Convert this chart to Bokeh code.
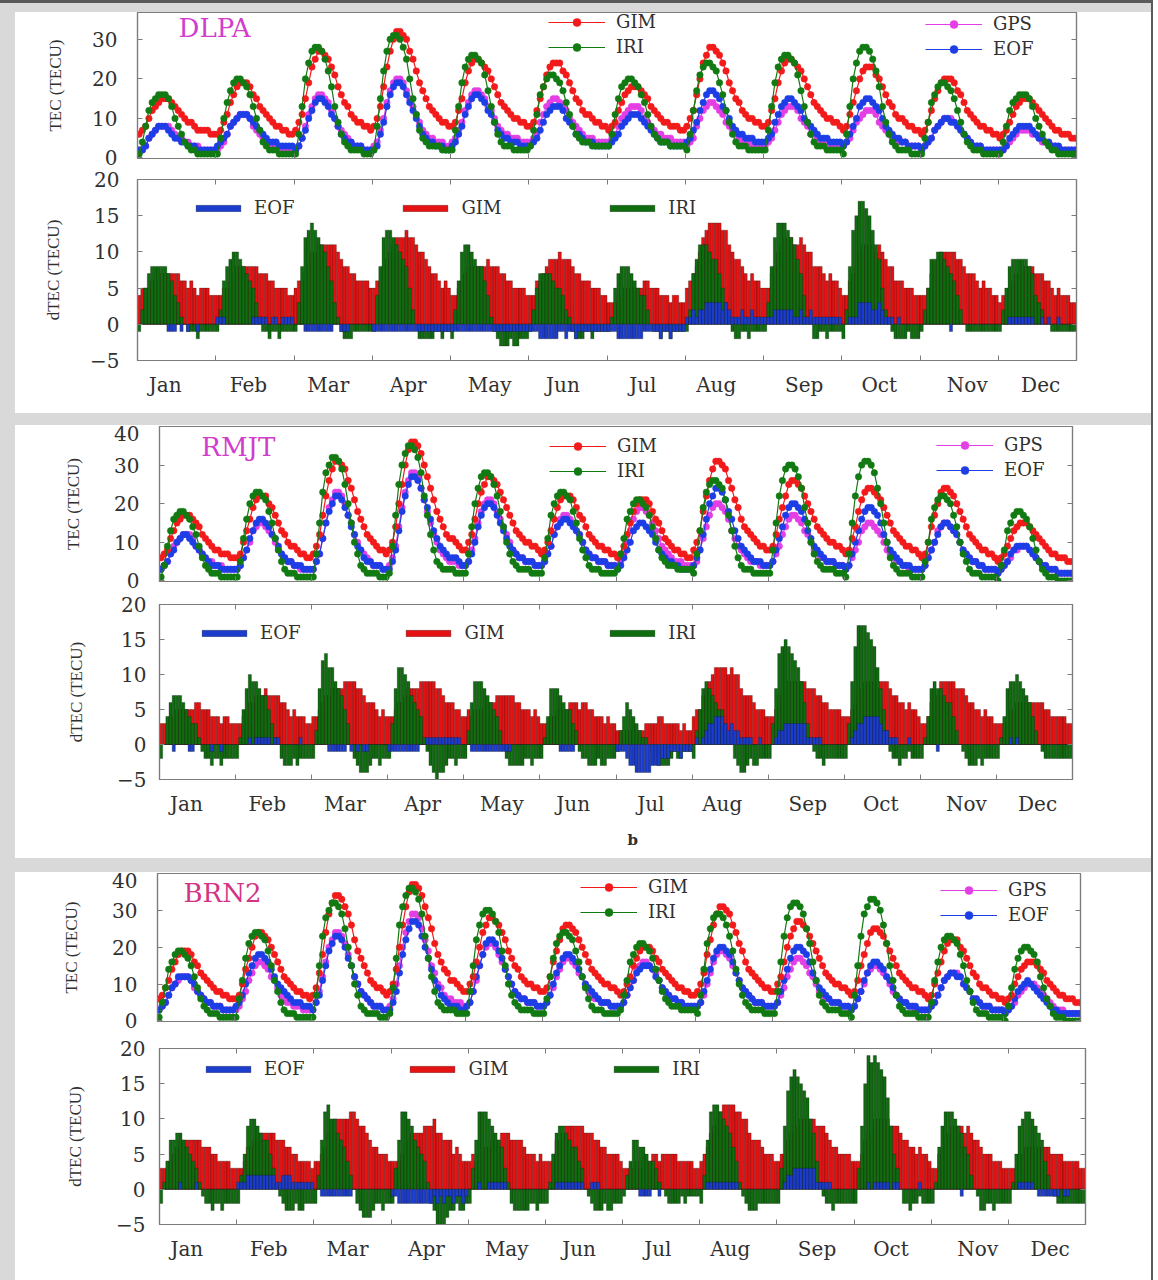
import numpy as np
from bokeh.plotting import figure
from bokeh.models import (Range1d, LinearAxis, FixedTicker, Legend, LegendItem,
                          Label, Title, ColumnDataSource)
from bokeh.layouts import column
from bokeh.embed import file_html
from bokeh.resources import INLINE

# ---------------------------------------------------------------------------
# Monthly-mean diurnal TEC (hourly, UT) for 2015 at three Nepal GPS stations.
# Each series: 12 months x 24 hourly values (TECU).
# ---------------------------------------------------------------------------
MONTHS = ["Jan", "Feb", "Mar", "Apr", "May", "Jun",
          "Jul", "Aug", "Sep", "Oct", "Nov", "Dec"]
MONTH_LABEL_HOURS = [8.5, 34.0, 58.5, 83.0, 108.0, 130.5,
                     155.0, 177.5, 204.5, 227.5, 254.5, 277.0]

DLPA_GPS = [
    [2,2,3,5,6,7,8,8,8,8,7,6,5,5,4,4,3,3,3,2,2,2,2,2],
    [2,3,4,6,8,9,10,11,11,11,10,8,7,6,5,4,4,3,3,3,2,2,2,2],
    [2,3,5,8,11,13,15,16,16,15,14,12,10,8,7,6,5,4,3,3,3,2,2,2],
    [3,4,7,10,14,17,19,20,20,19,17,15,13,11,9,7,6,5,5,4,4,4,3,3],
    [4,5,7,9,12,14,16,17,17,16,15,13,12,10,8,7,6,6,5,5,5,4,4,4],
    [4,5,6,9,11,13,14,15,15,14,13,12,10,9,8,7,6,5,5,5,4,4,4,4],
    [4,5,6,8,10,11,12,13,13,13,12,10,9,8,7,6,6,5,5,5,4,4,4,4],
    [3,4,5,8,10,12,13,14,14,13,12,11,9,8,7,6,5,4,4,4,3,3,3,3],
    [3,4,5,7,9,11,12,13,13,13,12,10,9,8,6,6,5,4,4,4,3,3,3,3],
    [3,4,5,7,9,10,11,12,12,12,11,9,8,7,6,5,5,4,4,4,3,3,3,3],
    [2,3,4,5,7,8,9,10,10,10,9,8,7,6,5,4,3,3,3,2,2,2,2,2],
    [2,2,3,4,5,6,7,7,7,7,6,6,5,4,4,3,3,3,2,2,2,2,2,2],
]
DLPA_EOF = [
    [2,2,3,5,6,7,8,8,8,7,6,5,5,4,4,3,3,3,2,2,2,2,2,2],
    [3,4,5,6,8,9,10,11,11,11,10,9,8,7,6,5,4,4,4,3,3,3,3,3],
    [2,3,5,7,10,12,14,15,15,14,13,11,10,8,6,5,4,4,3,3,3,2,2,2],
    [2,3,6,9,13,16,18,19,19,18,16,14,12,10,8,6,5,4,4,3,3,3,2,2],
    [3,4,6,8,11,13,15,16,16,15,14,12,11,9,7,6,5,5,4,4,4,3,3,3],
    [3,4,5,7,9,11,12,13,13,13,12,10,9,8,6,6,5,4,4,4,3,3,3,3],
    [3,4,5,6,8,9,10,11,11,11,10,9,8,7,6,5,4,4,4,3,3,3,3,3],
    [4,5,7,9,12,14,16,17,17,16,15,13,12,10,8,7,6,6,5,5,5,4,4,4],
    [4,5,6,9,11,13,14,15,15,14,13,12,10,9,8,7,6,5,5,5,4,4,4,4],
    [3,4,6,8,10,13,14,15,15,14,13,12,10,8,7,6,5,5,4,4,3,3,3,3],
    [2,3,4,5,7,8,9,10,10,9,9,8,7,6,5,4,3,3,3,2,2,2,2,2],
    [2,2,3,5,6,7,8,8,8,8,7,6,5,5,4,4,3,3,3,2,2,2,2,2],
]
DLPA_GIM = [
    [6,7,8,10,12,13,14,15,15,15,14,13,12,11,10,9,9,8,7,7,7,7,6,6],
    [6,7,9,11,14,16,18,19,19,19,18,16,15,13,12,11,10,9,8,8,7,7,6,6],
    [7,9,11,15,19,23,25,27,27,26,25,23,21,18,16,14,13,11,10,9,9,8,8,7],
    [8,10,13,18,23,27,30,32,32,31,30,27,25,22,19,17,15,13,12,11,10,9,9,8],
    [8,9,12,15,19,22,24,25,25,24,23,22,20,18,16,14,13,12,11,10,10,9,9,8],
    [8,9,12,15,18,21,23,24,24,24,22,21,19,17,15,14,12,11,11,10,9,9,8,8],
    [7,8,9,12,14,16,17,18,18,18,17,16,15,13,12,11,10,9,9,8,8,8,7,7],
    [8,10,12,16,20,24,26,28,28,27,26,24,22,19,17,15,14,12,11,10,10,9,9,8],
    [8,9,12,15,19,22,24,25,25,24,23,22,20,18,16,14,13,12,11,10,10,9,9,8],
    [7,8,11,14,17,20,22,23,23,23,21,20,18,16,14,13,11,10,10,9,8,8,7,7],
    [6,7,9,12,15,17,19,20,20,20,19,17,16,14,12,11,10,9,8,8,7,7,6,6],
    [5,6,7,9,11,13,14,15,15,15,14,13,12,11,10,9,8,7,7,6,6,6,5,5],
]
DLPA_IRI = [
    [1,4,8,12,14,15,16,16,16,15,13,10,8,6,4,3,2,2,1,1,1,1,1,1],
    [1,5,10,14,17,19,20,20,19,18,16,13,10,7,4,3,2,2,2,1,1,1,1,1],
    [1,6,13,20,24,27,28,28,27,25,22,18,13,9,6,4,3,2,2,2,2,1,1,1],
    [2,8,15,22,27,30,31,31,30,28,25,20,15,11,7,5,4,3,3,3,3,2,2,2],
    [2,7,13,19,23,25,26,26,25,24,21,17,13,9,6,4,3,3,3,2,2,2,2,2],
    [3,7,11,16,18,20,21,21,20,19,17,14,11,8,6,5,4,4,4,3,3,3,3,3],
    [3,6,11,15,18,19,20,20,19,18,16,14,11,8,6,5,4,4,4,3,3,3,3,3],
    [2,6,12,17,21,23,24,24,23,22,19,16,12,9,6,4,3,3,3,2,2,2,2,2],
    [2,7,13,19,23,25,26,26,25,24,21,17,13,9,6,4,3,3,3,2,2,2,2,2],
    [1,6,13,20,24,27,28,28,27,25,22,18,13,9,6,4,3,2,2,2,2,1,1,1],
    [1,5,9,14,16,18,19,19,18,17,15,12,9,6,4,3,2,2,2,1,1,1,1,1],
    [1,4,8,12,14,15,16,16,16,15,13,10,8,6,4,3,2,2,1,1,1,1,1,1],
]

RMJT_GPS = [
    [3,4,5,7,9,10,11,12,12,12,11,9,8,7,6,5,5,4,4,4,3,3,3,3],
    [3,4,6,8,10,13,14,15,15,14,13,12,10,8,7,6,5,5,4,4,3,3,3,3],
    [3,5,7,11,15,19,21,23,23,22,20,17,15,12,10,8,7,6,5,4,4,4,3,3],
    [4,6,9,14,19,23,26,28,28,27,24,21,18,15,12,10,8,7,6,5,5,5,4,4],
    [4,5,8,11,15,18,20,21,21,20,18,16,14,12,10,8,7,6,6,5,5,5,4,4],
    [4,5,7,9,12,14,16,17,17,16,15,13,12,10,8,7,6,6,5,5,5,4,4,4],
    [4,5,7,10,13,16,18,19,19,18,17,15,13,11,9,8,7,6,5,5,5,4,4,4],
    [4,5,8,11,14,17,19,20,20,19,18,16,13,11,9,8,7,6,5,5,5,4,4,4],
    [4,5,7,9,12,14,16,17,17,16,15,13,12,10,8,7,6,6,5,5,5,4,4,4],
    [3,4,6,8,10,13,14,15,15,14,13,12,10,8,7,6,5,5,4,4,3,3,3,3],
    [3,4,6,8,10,13,14,15,15,14,13,12,10,8,7,6,5,5,4,4,3,3,3,3],
    [2,3,4,5,6,8,8,9,9,9,8,7,6,5,4,4,3,3,3,2,2,2,2,2],
]
RMJT_EOF = [
    [3,4,5,7,8,10,11,12,12,11,10,9,8,7,6,5,4,4,4,3,3,3,3,3],
    [3,4,6,8,11,13,15,16,16,15,14,12,11,9,7,6,5,5,4,4,4,3,3,3],
    [3,5,7,11,15,18,20,22,22,21,19,17,14,12,9,8,6,5,5,4,4,4,3,3],
    [3,5,8,13,18,22,25,27,27,26,24,21,19,16,13,11,9,8,7,6,6,6,5,4],
    [4,5,7,10,14,17,19,20,20,19,17,15,13,11,9,8,7,6,6,5,5,5,4,4],
    [4,5,7,9,12,14,15,16,16,15,14,13,12,10,8,7,6,6,5,5,5,4,4,4],
    [3,4,6,8,10,13,14,15,15,14,13,12,10,8,7,6,5,5,4,4,3,3,3,3],
    [4,6,8,12,16,20,22,24,24,23,21,18,16,13,11,9,8,7,6,5,5,5,4,4],
    [4,5,8,11,14,17,19,20,20,19,18,16,13,11,9,8,7,6,5,5,5,4,4,4],
    [3,4,7,10,13,16,18,19,19,18,17,15,12,10,8,7,6,5,4,4,4,3,3,3],
    [3,4,6,8,10,12,14,15,15,14,13,12,10,8,7,6,5,5,4,4,3,3,3,3],
    [2,3,4,5,7,8,9,9,9,9,8,7,6,5,4,4,3,3,3,2,2,2,2,2],
]
RMJT_GIM = [
    [6,7,8,11,13,15,16,17,17,17,16,15,14,12,11,10,9,8,8,7,7,7,6,6],
    [6,7,10,13,16,19,21,22,22,22,20,19,17,15,13,12,10,9,9,8,7,7,6,6],
    [7,9,12,17,22,26,29,31,31,30,29,26,24,21,18,16,14,12,11,10,9,8,8,7],
    [8,10,14,20,25,30,34,36,36,35,33,30,27,24,21,18,16,14,12,11,11,10,9,8],
    [8,10,12,16,20,23,25,27,27,26,25,23,21,19,17,15,13,12,11,10,10,9,9,8],
    [7,8,10,13,16,19,21,22,22,22,21,19,17,16,14,12,11,10,9,9,8,8,7,7],
    [6,7,9,12,15,18,20,21,21,21,20,18,16,15,13,11,10,9,8,8,7,7,6,6],
    [8,10,13,18,22,26,29,31,31,30,29,26,24,21,19,16,14,13,12,11,10,9,9,8],
    [8,9,12,16,19,22,25,26,26,25,24,22,20,18,16,14,13,12,11,10,10,9,9,8],
    [7,8,11,14,18,21,23,24,24,23,22,21,19,17,15,13,12,11,10,9,9,8,8,7],
    [6,7,10,14,17,20,23,24,24,23,22,20,18,16,14,12,11,10,9,8,8,7,7,6],
    [5,6,7,9,11,13,14,15,15,15,14,13,12,11,10,9,8,7,7,6,6,6,5,5],
]
RMJT_IRI = [
    [1,4,9,13,16,17,18,18,17,16,14,12,9,6,4,3,2,2,2,1,1,1,1,1],
    [1,5,11,16,20,22,23,23,22,21,18,15,11,8,5,3,2,2,2,1,1,1,1,1],
    [1,7,15,23,28,30,32,32,31,29,25,20,15,10,7,4,3,2,2,2,2,1,1,1],
    [2,9,17,25,30,33,35,35,34,32,28,22,17,12,8,5,4,3,3,3,3,2,2,2],
    [2,7,14,20,24,27,28,28,27,25,22,18,14,10,7,5,4,3,3,3,3,2,2,2],
    [2,6,11,17,20,22,23,23,22,21,18,15,11,8,6,4,3,3,3,2,2,2,2,2],
    [3,7,11,16,18,20,21,21,20,19,17,14,11,8,6,5,4,4,4,3,3,3,3,3],
    [2,7,13,19,23,25,26,26,25,24,21,17,13,9,6,4,3,3,3,2,2,2,2,2],
    [2,8,15,22,26,29,30,30,29,27,24,19,15,10,7,5,4,3,3,3,3,2,2,2],
    [1,7,15,22,27,30,31,31,30,28,24,20,15,10,6,4,3,2,2,2,2,1,1,1],
    [1,5,10,16,19,21,22,22,21,20,17,14,10,7,5,3,2,2,2,1,1,1,1,1],
    [0,4,8,13,15,17,18,18,17,16,14,11,8,5,3,2,1,1,1,0,0,0,0,0],
]

BRN2_GPS = [
    [3,4,5,7,9,10,11,12,12,12,11,9,8,7,6,5,5,4,4,4,3,3,3,3],
    [3,4,6,8,11,13,15,16,16,15,14,12,11,9,7,6,5,5,4,4,4,3,3,3],
    [3,5,8,12,16,20,22,24,24,23,21,18,15,12,10,8,7,6,5,4,4,4,3,3],
    [4,6,10,15,20,24,27,29,29,28,25,22,19,15,13,10,9,7,6,6,5,5,5,4],
    [4,5,8,11,15,18,20,21,21,20,18,16,14,12,10,8,7,6,6,5,5,5,4,4],
    [4,5,7,9,12,14,16,17,17,16,15,13,12,10,8,7,6,6,5,5,5,4,4,4],
    [4,5,7,9,11,14,15,16,16,15,14,13,11,9,8,7,6,6,5,5,4,4,4,4],
    [4,5,7,10,13,16,18,19,19,18,17,15,13,11,9,8,7,6,5,5,5,4,4,4],
    [4,5,7,9,12,14,16,17,17,16,15,13,12,10,8,7,6,6,5,5,5,4,4,4],
    [3,4,6,8,10,13,14,15,15,14,13,12,10,8,7,6,5,5,4,4,3,3,3,3],
    [3,4,5,7,9,11,12,13,13,13,12,10,9,8,6,6,5,4,4,4,3,3,3,3],
    [2,3,4,5,7,8,9,10,10,10,9,8,7,6,5,4,3,3,3,2,2,2,2,2],
]
BRN2_EOF = [
    [3,4,5,7,9,10,12,12,12,12,11,10,8,7,6,5,5,4,4,4,3,3,3,3],
    [4,5,7,10,13,15,17,18,18,17,16,14,12,10,9,8,7,6,5,5,5,4,4,4],
    [3,5,7,11,15,19,21,23,23,22,20,17,15,12,10,8,7,6,5,4,4,4,3,3],
    [3,5,8,13,18,22,25,27,27,26,23,20,17,14,11,9,7,6,5,4,4,4,3,3],
    [4,5,8,12,15,18,21,22,22,21,19,17,14,12,10,8,7,6,6,5,5,5,4,4],
    [4,5,7,10,13,15,17,18,18,17,16,14,12,10,9,8,7,6,5,5,5,4,4,4],
    [4,5,7,9,11,13,14,15,15,15,14,12,11,9,8,7,6,6,5,5,4,4,4,4],
    [4,5,8,11,14,17,19,20,20,19,18,16,13,11,9,8,7,6,5,5,5,4,4,4],
    [4,5,8,11,14,17,19,20,20,19,18,16,13,11,9,8,7,6,5,5,5,4,4,4],
    [3,4,6,8,11,13,15,16,16,15,14,12,11,9,7,6,5,5,4,4,4,3,3,3],
    [3,4,5,7,9,11,12,13,13,12,12,10,9,8,6,6,5,4,4,4,3,3,3,3],
    [2,3,4,6,8,9,10,11,10,9,8,7,6,5,4,3,3,2,2,2,2,2,2,2],
]
BRN2_GIM = [
    [6,7,9,11,14,16,18,19,19,19,18,16,15,13,12,11,10,9,8,8,7,7,6,6],
    [6,7,10,14,17,20,23,24,24,23,22,20,18,16,14,12,11,10,9,8,8,7,7,6],
    [7,9,13,18,24,29,32,34,34,33,31,29,26,22,19,17,15,13,11,10,9,9,8,7],
    [8,10,14,20,26,31,35,37,37,36,34,31,28,25,21,18,16,14,13,11,11,10,9,8],
    [8,10,12,16,20,24,26,28,28,27,26,24,22,19,17,15,14,12,11,10,10,9,9,8],
    [8,9,12,16,19,22,25,26,26,25,24,22,20,18,16,14,13,12,11,10,10,9,9,8],
    [7,8,10,12,15,17,19,20,20,20,19,17,16,14,13,12,11,10,9,9,8,8,7,7],
    [8,10,13,18,22,26,29,31,31,30,29,26,24,21,19,16,14,13,12,11,10,9,9,8],
    [8,10,12,16,20,23,25,27,27,26,25,23,21,19,17,15,13,12,11,10,10,9,9,8],
    [7,8,11,15,18,21,24,25,25,24,23,21,19,17,15,13,12,11,10,9,9,8,8,7],
    [6,7,10,13,16,19,21,22,22,22,20,19,17,15,13,12,10,9,9,8,7,7,6,6],
    [5,6,7,10,12,14,15,16,16,16,15,14,13,11,10,9,8,7,7,6,6,6,5,5],
]
BRN2_IRI = [
    [1,5,9,14,16,18,19,19,18,17,15,12,9,6,4,3,2,2,2,1,1,1,1,1],
    [1,6,11,17,21,23,24,24,23,22,19,15,11,8,5,3,2,2,2,1,1,1,1,1],
    [1,7,15,23,28,30,32,32,31,29,25,20,15,10,7,4,3,2,2,2,2,1,1,1],
    [2,9,17,26,31,34,36,36,35,33,29,23,17,12,8,5,4,3,3,3,3,2,2,2],
    [2,8,15,22,26,29,30,30,29,27,24,19,15,10,7,5,4,3,3,3,3,2,2,2],
    [2,6,12,17,21,23,24,24,23,22,19,16,12,9,6,4,3,3,3,2,2,2,2,2],
    [3,7,11,16,18,20,21,21,20,19,17,14,11,8,6,5,4,4,4,3,3,3,3,3],
    [2,7,14,21,25,28,29,29,28,26,23,19,14,10,7,5,4,3,3,3,3,2,2,2],
    [2,8,16,23,28,31,32,32,31,29,25,21,16,11,7,5,4,3,3,3,3,2,2,2],
    [1,7,15,23,29,31,33,33,32,30,26,21,15,11,7,4,3,2,2,2,2,1,1,1],
    [1,5,11,16,20,22,23,23,22,21,18,15,11,8,5,3,2,2,2,1,1,1,1,1],
    [0,4,9,14,17,19,20,20,19,18,16,12,9,6,4,2,1,1,1,0,0,0,0,0],
]

# ---------------------------------------------------------------------------
# Styling
# ---------------------------------------------------------------------------
SERIF = "DejaVu Serif"
TITLE_FONT = "Liberation Serif"
TXT = "#303030"
AXC = "#7c7c7c"
C_GIM, C_IRI, C_GPS, C_EOF = "#f21a1a", "#127a12", "#e43fe4", "#1d3ee6"
B_GIM, B_IRI, B_EOF = "#e41212", "#0f6c0f", "#1c3dcc"
PAGE_W = 1136           # white panel width (x 15 .. 1151)
PANEL_LEFT = 15
PANEL_RIGHT = 1151

HOURS = np.arange(288) + 0.5
BOUNDS = [24.0 * k for k in range(13)]


def flat(m):
    return np.array([v for month in m for v in month], dtype=float)


def tick_style(ax, size="19px"):
    ax.axis_line_color = AXC
    ax.axis_line_width = 1.2
    ax.major_tick_line_color = AXC
    ax.minor_tick_line_color = AXC
    ax.major_tick_in = 5
    ax.major_tick_out = 0
    ax.minor_tick_in = 5
    ax.minor_tick_out = 0
    ax.major_label_text_font = SERIF
    ax.major_label_text_font_size = size
    ax.major_label_text_color = TXT


def tick_only_axis(positions):
    # an axis that carries only inward tick marks (minor ticks, so no labels)
    ax = LinearAxis(ticker=FixedTicker(ticks=[], minor_ticks=positions))
    tick_style(ax)
    ax.major_label_standoff = 0
    return ax


def base_fig(height, frame_left, frame_right, top, bottom, yr):
    p = figure(width=PAGE_W, height=height,
               x_range=Range1d(0, 288), y_range=Range1d(*yr),
               output_backend="svg", toolbar_location=None,
               x_axis_location=None, y_axis_location=None,
               min_border_left=frame_left - PANEL_LEFT,
               min_border_right=PANEL_RIGHT - frame_right,
               min_border_top=top, min_border_bottom=bottom,
               background_fill_color="white", border_fill_color="white")
    p.frame_align = False
    p.outline_line_color = AXC
    p.outline_line_width = 1.2
    p.xgrid.visible = False
    p.ygrid.visible = False
    return p


def left_axis(p, ticks, title, lab_standoff, title_standoff):
    left = LinearAxis(ticker=FixedTicker(ticks=ticks), axis_label=title)
    tick_style(left, "20px")
    left.major_label_standoff = lab_standoff
    left.axis_label_text_font = TITLE_FONT
    left.axis_label_text_font_size = "17px"
    left.axis_label_text_font_style = "normal"
    left.axis_label_text_color = TXT
    left.axis_label_standoff = title_standoff
    p.add_layout(left, "left")


def tec_panel(name, name_color, gps, eof, gim, iri, height, ymax,
              frame_left, frame_right, top, bottom, lab_standoff, title_standoff,
              name_xy, leg1_xy, leg2_xy):
    p = base_fig(height, frame_left, frame_right, top, bottom, (-0.15, ymax))
    left_axis(p, [0, 10, 20, 30, 40], "TEC (TECU)", lab_standoff, title_standoff)
    p.add_layout(tick_only_axis([0, 10, 20, 30, 40]), "right")
    p.add_layout(tick_only_axis(BOUNDS), "below")

    src = ColumnDataSource(dict(x=HOURS, gps=flat(gps), eof=flat(eof),
                                gim=flat(gim), iri=flat(iri)))
    rend = {}
    for key, col in (("gps", C_GPS), ("eof", C_EOF), ("gim", C_GIM), ("iri", C_IRI)):
        ln = p.line("x", key, source=src, line_color=col, line_width=1.2)
        sc = p.scatter("x", key, source=src, size=6.5, fill_color=col,
                       line_color=col, line_width=0.5)
        rend[key] = [ln, sc]

    p.add_layout(Label(x=name_xy[0], y=name_xy[1], text=name, text_color=name_color,
                       text_font=SERIF, text_font_size="26px",
                       text_baseline="middle", text_align="left"))

    for items, loc in (((("GIM", "gim"), ("IRI", "iri")), leg1_xy),
                       ((("GPS", "gps"), ("EOF", "eof")), leg2_xy)):
        leg = Legend(items=[LegendItem(label=lab, renderers=rend[k]) for lab, k in items],
                     location=loc, orientation="vertical",
                     background_fill_alpha=0, border_line_color=None,
                     padding=0, margin=0, spacing=4,
                     glyph_width=57, glyph_height=20, label_height=20,
                     label_standoff=11, label_text_font=SERIF,
                     label_text_font_size="18px", label_text_color=TXT)
        p.add_layout(leg)
    return p


def dtec_panel(gps, eof, gim, iri, height, frame_left, frame_right, top, bottom,
               lab_standoff, title_standoff, leg_xy, leg_spacing):
    p = base_fig(height, frame_left, frame_right, top, bottom, (-5, 20))
    left_axis(p, [-5, 0, 5, 10, 15, 20], "dTEC (TECU)", lab_standoff, title_standoff)
    p.add_layout(tick_only_axis([-5, 0, 5, 10, 15, 20]), "right")
    p.add_layout(tick_only_axis(BOUNDS), "above")

    bot = LinearAxis(ticker=FixedTicker(ticks=MONTH_LABEL_HOURS, minor_ticks=BOUNDS))
    tick_style(bot, "20px")
    bot.major_tick_line_color = None
    bot.major_label_standoff = 12
    bot.major_label_overrides = {h: m for h, m in zip(MONTH_LABEL_HOURS, MONTHS)}
    p.add_layout(bot, "below")

    g = flat(gps)
    src = ColumnDataSource(dict(x=HOURS, gim=flat(gim) - g, iri=flat(iri) - g,
                                eof=flat(eof) - g))
    bars = {}
    for key, col in (("gim", B_GIM), ("iri", B_IRI), ("eof", B_EOF)):
        bars[key] = p.vbar(x="x", top=key, bottom=0, width=1.0, source=src,
                           fill_color=col, line_color="#111111",
                           line_width=0.5, line_alpha=0.55)

    leg = Legend(items=[LegendItem(label="EOF", renderers=[bars["eof"]]),
                        LegendItem(label="GIM", renderers=[bars["gim"]]),
                        LegendItem(label="IRI", renderers=[bars["iri"]])],
                 location=leg_xy, orientation="horizontal",
                 background_fill_alpha=0, border_line_color=None,
                 padding=0, margin=0, spacing=leg_spacing,
                 glyph_width=56, glyph_height=8, label_height=8,
                 label_standoff=8, label_text_font=SERIF,
                 label_text_font_size="18px", label_text_color=TXT)
    p.add_layout(leg)
    return p


# Panel a : DLPA
a1 = tec_panel("DLPA", "#d23ccc", DLPA_GPS, DLPA_EOF, DLPA_GIM, DLPA_IRI,
               height=157, ymax=36.8, frame_left=137, frame_right=1076,
               top=0, bottom=11, lab_standoff=20, title_standoff=24,
               name_xy=(12.6, 33.0), leg1_xy=(411, 101), leg2_xy=(788, 99))
a2 = dtec_panel(DLPA_GPS, DLPA_EOF, DLPA_GIM, DLPA_IRI,
                height=244, frame_left=137, frame_right=1076, top=10, bottom=53,
                lab_standoff=18, title_standoff=24, leg_xy=(53, 142),
                leg_spacing=103)

# Panel b : RMJT
b1 = tec_panel("RMJT", "#d23ccc", RMJT_GPS, RMJT_EOF, RMJT_GIM, RMJT_IRI,
               height=168, ymax=40, frame_left=159, frame_right=1072,
               top=1, bottom=12, lab_standoff=20, title_standoff=28,
               name_xy=(13.2, 34.6), leg1_xy=(390, 100), leg2_xy=(777, 101))
b2 = dtec_panel(RMJT_GPS, RMJT_EOF, RMJT_GIM, RMJT_IRI,
                height=265, frame_left=159, frame_right=1072, top=11, bottom=79,
                lab_standoff=13, title_standoff=28, leg_xy=(37, 136),
                leg_spacing=100)
b2.add_layout(Title(text="b", align="left", offset=468, standoff=20,
                    text_font=SERIF, text_font_size="15px",
                    text_font_style="bold", text_color=TXT), "below")

# Panel c : BRN2
c1 = tec_panel("BRN2", "#d33384", BRN2_GPS, BRN2_EOF, BRN2_GIM, BRN2_IRI,
               height=164, ymax=40, frame_left=157, frame_right=1080,
               top=1, bottom=15, lab_standoff=20, title_standoff=28,
               name_xy=(8.1, 34.6), leg1_xy=(423, 99), leg2_xy=(783, 96))
c2 = dtec_panel(BRN2_GPS, BRN2_EOF, BRN2_GIM, BRN2_IRI,
                height=244, frame_left=159, frame_right=1085, top=12, bottom=56,
                lab_standoff=14, title_standoff=28, leg_xy=(41, 145),
                leg_spacing=100)

WHITE = {"background-color": "white"}
panel_a = column(a1, a2, spacing=0, styles=WHITE, margin=(9, 0, 0, PANEL_LEFT))
panel_b = column(b1, b2, spacing=0, styles=WHITE, margin=(12, 0, 0, PANEL_LEFT))
panel_c = column(c1, c2, spacing=0, styles=WHITE, margin=(14, 0, 0, PANEL_LEFT))

page = column(panel_a, panel_b, panel_c, spacing=0,
              styles={"background-color": "#d9d9d9",
                      "border-top": "3px solid #5a5a5a",
                      "border-right": "2px solid #5a5a5a"})

open("out.html", "w").write(file_html(page, INLINE, title="TEC comparison"))
